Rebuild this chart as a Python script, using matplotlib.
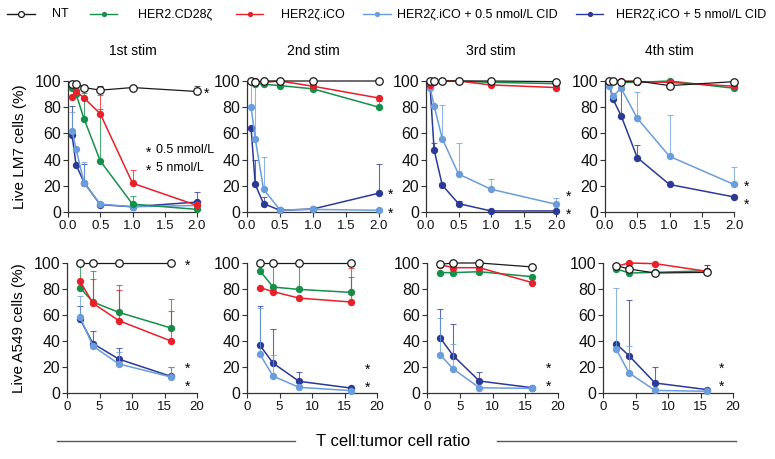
import matplotlib
matplotlib.use("Agg")
import matplotlib.pyplot as plt
from matplotlib.lines import Line2D

plt.rcParams['font.family'] = ['Liberation Sans', 'DejaVu Sans']

# ---------------- data ----------------
x_lm7 = [0.0625, 0.125, 0.25, 0.5, 1.0, 2.0]
x_a549 = [2, 4, 8, 16]
series = ["NT", "HER2.CD28ζ", "HER2ζ.iCO", "HER2ζ.iCO + 0.5 nmol/L CID", "HER2ζ.iCO + 5 nmol/L CID"]
stims = ["1st stim", "2nd stim", "3rd stim", "4th stim"]

# LM7 (top row): mean values, upper error
lm7_nt = [[98, 98, 95, 93, 95, 92], [100, 99, 100, 100, 100, 100],
          [100, 100, 100, 100, 100, 99.5], [100, 100, 99.5, 100, 96.5, 99.5]]
lm7_nt_err = [[1, 1, 2, 3, 0, 4], [0, 0, 0, 0, 0, 0], [0, 0, 0, 0, 0, 0], [0, 0, 0, 0, 0, 0]]
lm7_cd28 = [[95, 90, 71, 39, 6, 2], [100, 98, 97.5, 96.5, 94, 80],
            [99, 100, 100, 100, 99, 98], [100, 100, 99, 99, 100, 94.5]]
lm7_cd28_err = [[0, 5, 20, 40, 6, 0], [0, 0, 0, 0, 0, 5], [0, 0, 0, 0, 0, 0], [0, 0, 0, 0, 0, 0]]
lm7_ico = [[88, 92, 87, 75, 22, 5], [100, 100, 99, 100, 96, 87],
           [97, 99, 100, 100, 97, 95], [100, 100, 100, 99.5, 99, 96]]
lm7_ico_err = [[0, 0, 0, 14, 10, 0], [0, 0, 0, 0, 0, 0], [0, 0, 0, 0, 0, 0], [0, 0, 0, 0, 0, 0]]
lm7_c05 = [[62, 48, 22, 6, 4, 5], [80, 56, 17.5, 1.5, 2, 1.3],
           [95, 81, 56, 29, 17.4, 5.9], [96, 88.5, 94.5, 71.5, 42.5, 21]]
lm7_c05_err = [[14, 0, 16, 2, 0, 0], [20, 44, 24.5, 0, 0, 0],
               [0, 0, 26, 24, 8, 4.5], [4, 0, 0, 20, 31.5, 13]]
lm7_c5 = [[59, 36, 22.5, 5.6, 4, 7.6], [64, 21, 6.4, 1.3, 2.3, 14.4],
          [96, 47.4, 20.5, 6.4, 0.8, 0.8], [98, 86, 73.5, 41.5, 21, 11.5]]
lm7_c5_err = [[22, 0, 14, 2, 0, 8], [0, 19, 5, 0, 0, 22],
              [0, 5, 2, 2, 0, 0], [0, 0, 20, 9.5, 0, 0]]

# A549 (bottom row)
a549_nt = [[100, 100, 100, 100], [100, 100, 100, 100], [99, 100, 100, 97], [98, 95.4, 92.3, 92.8]]
a549_nt_err = [[0, 0, 0, 0], [0, 0, 0, 0], [0, 0, 0, 0], [0, 0, 0, 6]]
a549_cd28 = [[81, 70, 62, 50], [94, 81.5, 79.7, 77.4], [92.6, 92.6, 93.3, 89.5], [95.6, 92.3, 92.8, 94]]
a549_cd28_err = [[19, 24, 21, 22], [0, 18.5, 20, 11.6], [0, 0, 0, 0], [0, 0, 0, 0]]
a549_ico = [[86, 69, 55.6, 40], [81, 78, 73, 70], [98.7, 96.4, 96.4, 85], [97.4, 100, 99.5, 93.6]]
a549_ico_err = [[0, 19, 24, 23], [0, 0, 0, 26], [0, 0, 0, 0], [0, 0, 0, 0]]
a549_c05 = [[58.5, 36, 22.3, 12.3], [29.7, 13, 4.4, 1.8], [29.5, 18.5, 4, 3.6], [34, 15.4, 2, 1.3]]
a549_c05_err = [[16.5, 0, 9, 8], [36, 16, 0, 0], [28.5, 19.5, 0, 0], [47, 21, 0, 0]]
a549_c5 = [[57, 38, 26, 12.8], [36.7, 23, 9, 3.8], [42.6, 28.7, 9.2, 4.1], [38, 28.7, 7.7, 2.6]]
a549_c5_err = [[10, 10, 8.5, 7.5], [30, 26, 7, 0], [22.4, 24.3, 6.8, 0], [0, 43, 12, 0]]

# significance asterisk positions (x, y) per panel
stars_lm7 = [[(2.15, 92)], [(2.17, 15), (2.17, 1)], [(2.19, 13.5), (2.19, 0)], [(2.19, 21), (2.19, 7.5)]]
stars_a549 = [[(18.6, 100), (18.6, 20.5), (18.6, 6.4)], [(18.5, 20), (18.5, 6)],
              [(18.5, 20.5), (18.5, 6.4)], [(18.3, 20.5), (18.3, 6.4)]]

# ---------------- style ----------------
C_NT = "#1a1a1a"
C_CD28 = "#14904a"
C_ICO = "#e8202a"
C_C05 = "#6a9ddc"
C_C5 = "#2a3a96"

W, H = 775, 459
fig = plt.figure(figsize=(W / 100, H / 100), dpi=100)

top_lefts = [68, 247, 426, 605]
top_widths = [129, 132, 130, 129]
bot_lefts = [67, 247, 427, 603]
bot_widths = [130, 130, 131, 130]
top_y0, top_y1 = 212, 81
bot_y0, bot_y1 = 393, 263


def draw_series(ax, x, y, err, color, open_marker=False, z=3):
    ax.errorbar(x, y, yerr=[[0] * len(err), err], fmt='none', ecolor=color,
                elinewidth=0.8, capsize=2.2, capthick=0.8, alpha=0.75, zorder=z - 0.5, clip_on=False)
    if open_marker:
        ax.plot(x, y, '-o', color=color, lw=0.9, ms=5.4, mfc='white', mec=color, mew=0.9,
                zorder=z, clip_on=False)
    else:
        ax.plot(x, y, '-o', color=color, lw=1.1, ms=5.3, mfc=color, mec=color, mew=0,
                zorder=z, clip_on=False)


def style_ax(ax, xlim, xticks, xticklabels):
    ax.set_xlim(*xlim)
    ax.set_ylim(0, 100)
    ax.set_xticks(xticks)
    ax.set_xticklabels(xticklabels, fontsize=9.5)
    ax.set_yticks([0, 20, 40, 60, 80, 100])
    ax.set_yticklabels(["0", "20", "40", "60", "80", "100"], fontsize=11.5)
    for s in ["top", "right"]:
        ax.spines[s].set_visible(False)
    for s in ["left", "bottom"]:
        ax.spines[s].set_linewidth(0.9)
        ax.spines[s].set_color("#333333")
    ax.tick_params(direction='out', length=3.5, width=0.8, colors="#333333", pad=2)
    ax.tick_params(axis='x', labelcolor='#111111')
    ax.tick_params(axis='y', labelcolor='#111111', pad=1.5)


for i in range(4):
    # top row
    l = top_lefts[i] / W
    b = (H - top_y0) / H
    ax = fig.add_axes([l, b, top_widths[i] / W, (top_y0 - top_y1) / H])
    style_ax(ax, (0, 2), [0, 0.5, 1.0, 1.5, 2.0], ["0.0", "0.5", "1.0", "1.5", "2.0"])
    draw_series(ax, x_lm7, lm7_c5[i], lm7_c5_err[i], C_C5, z=3)
    draw_series(ax, x_lm7, lm7_c05[i], lm7_c05_err[i], C_C05, z=4)
    draw_series(ax, x_lm7, lm7_cd28[i], lm7_cd28_err[i], C_CD28, z=5)
    draw_series(ax, x_lm7, lm7_ico[i], lm7_ico_err[i], C_ICO, z=6)
    draw_series(ax, x_lm7, lm7_nt[i], lm7_nt_err[i], C_NT, open_marker=True, z=7)
    ax.set_title(stims[i], fontsize=10, pad=19)
    for (sx, sy) in stars_lm7[i]:
        ax.text(sx, sy - 2, "*", fontsize=10, ha='center', va='center', clip_on=False)
    if i == 0:
        ax.set_ylabel("Live LM7 cells (%)", fontsize=11, labelpad=5)
        ax.text(1.25, 45, "*", fontsize=10, ha='center', va='center')
        ax.text(1.37, 47, "0.5 nmol/L", fontsize=9, ha='left', va='center')
        ax.text(1.25, 31.5, "*", fontsize=10, ha='center', va='center')
        ax.text(1.37, 33.5, "5 nmol/L", fontsize=9, ha='left', va='center')

    # bottom row
    l = bot_lefts[i] / W
    b = (H - bot_y0) / H
    ax = fig.add_axes([l, b, bot_widths[i] / W, (bot_y0 - bot_y1) / H])
    style_ax(ax, (0, 20), [0, 5, 10, 15, 20], ["0", "5", "10", "15", "20"])
    draw_series(ax, x_a549, a549_c5[i], a549_c5_err[i], C_C5, z=3)
    draw_series(ax, x_a549, a549_c05[i], a549_c05_err[i], C_C05, z=4)
    draw_series(ax, x_a549, a549_cd28[i], a549_cd28_err[i], C_CD28, z=5)
    draw_series(ax, x_a549, a549_ico[i], a549_ico_err[i], C_ICO, z=6)
    draw_series(ax, x_a549, a549_nt[i], a549_nt_err[i], C_NT, open_marker=True, z=7)
    for (sx, sy) in stars_a549[i]:
        ax.text(sx, sy - 2, "*", fontsize=10, ha='center', va='center', clip_on=False)
    if i == 0:
        ax.set_ylabel("Live A549 cells (%)", fontsize=11, labelpad=5)

# ---------------- legend (manual) ----------------
leg_y = 1 - 14 / H
leg_items = [
    (series[0], C_NT, 7, 35, 52, True),
    (series[1], C_CD28, 90, 117, 138, False),
    (series[2], C_ICO, 236, 263, 281, False),
    (series[3], C_C05, 363, 391, 397, False),
    (series[4], C_C5, 576, 603, 616, False),
]
for (lab, col, x0, x1, xt, op) in leg_items:
    fig.add_artist(Line2D([x0 / W, x1 / W], [leg_y, leg_y], color=col, lw=1.0,
                          transform=fig.transFigure))
    xm = (x0 + x1) / 2 / W
    if op:
        fig.add_artist(Line2D([xm], [leg_y], marker='o', ms=4.2, mfc='white', mec=col, mew=0.9,
                              ls='none', transform=fig.transFigure))
    else:
        fig.add_artist(Line2D([xm], [leg_y], marker='o', ms=3.8, mfc=col, mec=col, mew=0,
                              ls='none', transform=fig.transFigure))
    fig.text(xt / W, leg_y, lab, fontsize=9, ha='left', va='center')

# ---------------- common x label ----------------
yl = 1 - 441 / H
fig.add_artist(Line2D([57 / W, 295 / W], [yl, yl], color="#555555", lw=1.0, transform=fig.transFigure))
fig.add_artist(Line2D([497 / W, 736 / W], [yl, yl], color="#555555", lw=1.0, transform=fig.transFigure))
fig.text(393 / W, yl, "T cell:tumor cell ratio", fontsize=12, ha='center', va='center')

fig.savefig("out.png", dpi=100)
